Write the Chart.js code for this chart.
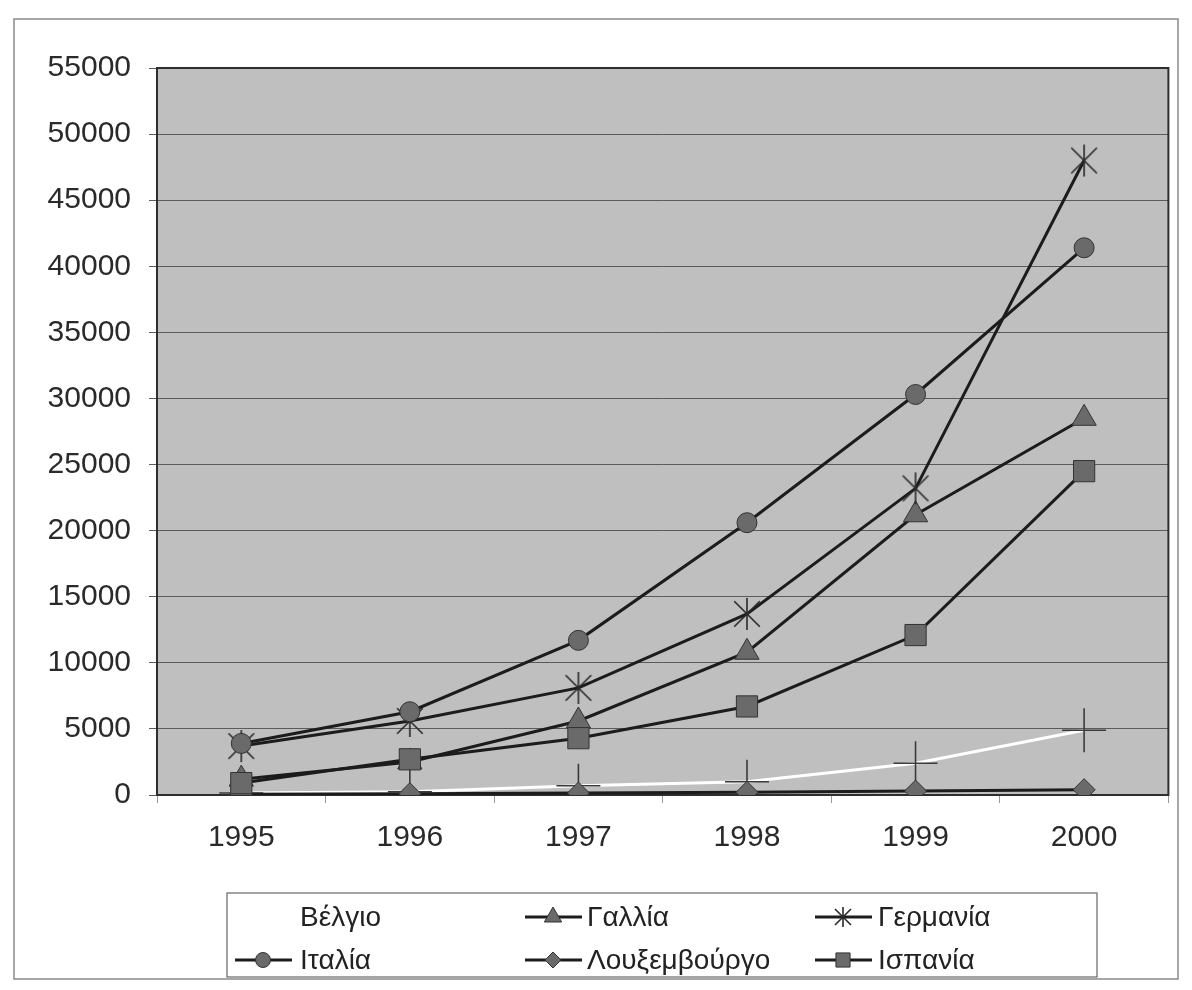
<!DOCTYPE html>
<html>
<head>
<meta charset="utf-8">
<script src="https://cdn.jsdelivr.net/npm/chart.js@4.4.0/dist/chart.umd.min.js"></script>
<style>
  body { margin: 0; background: #fff; }
  #wrap { width: 1192px; height: 990px; }
</style>
</head>
<body>
<div id="wrap"><canvas id="chart" width="1192" height="990"></canvas></div>
<script>
// data
const years = ['1995', '1996', '1997', '1998', '1999', '2000'];
const belgium = [150, 250, 700, 1000, 2400, 4900];
const france = [1200, 2500, 5600, 10800, 21200, 28500];
const germany = [3700, 5600, 8100, 13700, 23200, 48000];
const italy = [3900, 6300, 11700, 20600, 30300, 41400];
const luxembourg = [50, 100, 150, 200, 300, 400];
const spain = [900, 2700, 4300, 6700, 12100, 24500];
const names = ['Βέλγιο', 'Γαλλία', 'Γερμανία', 'Ιταλία', 'Λουξεμβούργο', 'Ισπανία'];
const yTicks = [0, 5000, 10000, 15000, 20000, 25000, 30000, 35000, 40000, 45000, 50000, 55000];

const FONT = '"Liberation Sans", Arial, sans-serif';
const LINE = '#1c1c1c';
const MARK = '#6a6a6a';

// excel style star: an X with a vertical bar
function makeStar(r) {
  const c = document.createElement('canvas');
  c.width = c.height = 2 * r + 4;
  const g = c.getContext('2d');
  const m = r + 2, d = r * 0.8;
  g.strokeStyle = '#2a2a2a';
  g.lineWidth = 1.6;
  g.beginPath();
  g.moveTo(m, m - r); g.lineTo(m, m + r);
  g.moveTo(m - d, m - d); g.lineTo(m + d, m + d);
  g.moveTo(m + d, m - d); g.lineTo(m - d, m + d);
  g.stroke();
  return c;
}
const starBig = makeStar(16);
const starSmall = makeStar(10);

function series(label, data, style, radius, color, order) {
  return {
    label: label,
    data: data,
    borderColor: color,
    borderWidth: 3,
    pointStyle: style,
    pointRadius: radius,
    pointHoverRadius: radius,
    pointBackgroundColor: MARK,
    pointBorderColor: '#333',
    pointBorderWidth: 1,
    tension: 0,
    order: order
  };
}

const datasets = [
  series(names[0], belgium, 'cross', 22, '#ffffff', 5),
  series(names[1], france, 'triangle', 14, LINE, 4),
  series(names[2], germany, starBig, 16, LINE, 3),
  series(names[3], italy, 'circle', 10, LINE, 2),
  series(names[4], luxembourg, 'rectRot', 11, LINE, 1),
  series(names[5], spain, 'rect', 15, LINE, 0)
];
datasets[0].pointBorderColor = '#3a3a3a';
datasets[0].pointBorderWidth = 1.6;

const legendMarks = ['cross', 'triangle', starSmall, 'circle', 'rectRot', 'rect'];
const legendRadius = [0, 10, 10, 7.5, 8, 10];

const plotBg = {
  id: 'plotBg',
  beforeDraw(chart) {
    const a = chart.chartArea, ctx = chart.ctx;
    ctx.save();
    ctx.fillStyle = '#bfbfbf';
    ctx.fillRect(a.left, a.top, a.right - a.left, a.bottom - a.top);
    ctx.restore();
  },
  beforeDatasetsDraw(chart) {
    const a = chart.chartArea, ctx = chart.ctx;
    ctx.save();
    ctx.strokeStyle = '#2e2e2e';
    ctx.lineWidth = 2;
    ctx.strokeRect(a.left, a.top, a.right - a.left, a.bottom - a.top);
    ctx.restore();
  },
  afterDraw(chart) {
    const ctx = chart.ctx;
    ctx.save();
    // outer frame
    ctx.strokeStyle = '#8a8a8a';
    ctx.lineWidth = 1.5;
    ctx.strokeRect(14, 19, 1164, 960);
    // legend box
    ctx.strokeStyle = '#666';
    ctx.lineWidth = 1.2;
    ctx.strokeRect(227, 893, 870, 84);
    const colX = [235, 525, 815];
    const textX = [300, 587, 878];
    const rowY = [917, 960];
    ctx.font = '28px ' + FONT;
    ctx.textBaseline = 'middle';
    chart.data.datasets.forEach((ds, i) => {
      const x = colX[i % 3], y = rowY[Math.floor(i / 3)];
      ctx.strokeStyle = ds.borderColor;
      ctx.lineWidth = 3;
      ctx.beginPath();
      ctx.moveTo(x, y); ctx.lineTo(x + 57, y);
      ctx.stroke();
      if (legendRadius[i] > 0) {
        ctx.fillStyle = MARK;
        ctx.strokeStyle = '#333';
        ctx.lineWidth = 1;
        Chart.helpers.drawPoint(ctx, {
          pointStyle: legendMarks[i], radius: legendRadius[i], rotation: 0, borderWidth: 1
        }, x + 28, y);
      }
      ctx.fillStyle = '#222';
      ctx.fillText(ds.label, textX[i % 3], y + 1);
    });
    ctx.restore();
  }
};

new Chart(document.getElementById('chart'), {
  type: 'line',
  data: { labels: years, datasets: datasets },
  plugins: [plotBg],
  options: {
    responsive: false,
    animation: false,
    events: [],
    layout: { padding: { top: 68, right: 20, left: 0, bottom: 0 } },
    plugins: {
      legend: { display: false },
      tooltip: { enabled: false }
    },
    scales: {
      x: {
        offset: true,
        afterFit(scale) { scale.height = 195; },
        grid: { offset: true, drawOnChartArea: false, drawTicks: true, tickLength: 8, color: '#9a9a9a' },
        border: { display: false },
        ticks: { color: '#2a2a2a', padding: 17, font: { family: FONT, size: 30 } }
      },
      y: {
        min: 0,
        max: 55000,
        afterFit(scale) { scale.width = 157; },
        afterBuildTicks(scale) { scale.ticks = yTicks.map(v => ({ value: v })); },
        grid: { color: '#5a5a5a', lineWidth: 1, tickLength: 8, drawTicks: true },
        border: { display: false },
        ticks: {
          color: '#2a2a2a',
          padding: 18,
          font: { family: FONT, size: 30 },
          callback: v => String(v)
        }
      }
    }
  }
});
</script>
</body>
</html>
